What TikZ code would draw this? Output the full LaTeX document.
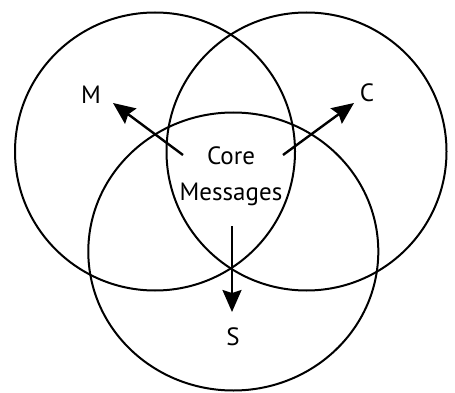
\documentclass[tikz,border=0pt]{standalone}
\usepackage{fontspec}
\setmainfont{PT Sans}
\usetikzlibrary{arrows.meta}
\definecolor{InkBlack}{RGB}{0, 0, 0}

\begin{document}
\begin{tikzpicture}[x=1pt, y=-1pt,
        ring/.style={InkBlack, line width=2pt},
        pointer/.style={InkBlack, line width=2.4pt, -{Stealth[length=22pt, width=19pt, inset=3pt]}},
        lbl/.style={font=\fontsize{25}{36}\selectfont, inner sep=0pt}]
        \useasboundingbox (0,0) rectangle (455,393);
        \coordinate (M_Center) at (155,151.5);
        \coordinate (C_Center) at (306.5,151.5);
        \coordinate (S_Center) at (233.3,251.5);
        \draw[ring] (M_Center) ellipse [x radius=140, y radius=139];
        \draw[ring] (C_Center) ellipse [x radius=140, y radius=139];
        \draw[ring] (S_Center) ellipse [x radius=145, y radius=139];
        \node[lbl, align=center] (core) at (231,176) {Core\\Messages};
        \node[lbl] (M) at (91,95) {M};
        \node[lbl] (C) at (367,93) {C};
        \node[lbl] (S) at (233,337) {S};
        \coordinate (M_Start) at (183,155);
        \coordinate (C_Start) at (283,155);
        \coordinate (S_Start) at (232,226);
        \coordinate (M_Tip) at (113,103);
        \coordinate (C_Tip) at (354,103);
        \coordinate (S_Tip) at (232,312);
        \foreach \a/\b in {M_Start/M_Tip, C_Start/C_Tip, S_Start/S_Tip} { \draw[pointer] (\a) -- (\b); }
    \end{tikzpicture}
\end{document}
